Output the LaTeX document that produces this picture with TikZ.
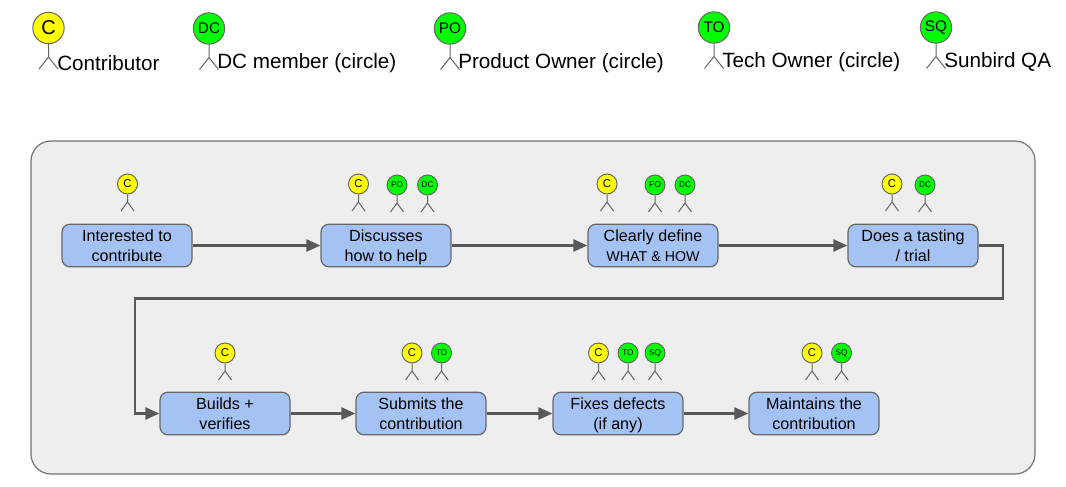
\documentclass[tikz,border=0pt]{standalone}
\usepackage{fontspec}
\setmainfont{Liberation Sans}
\usetikzlibrary{arrows.meta}
\definecolor{panelfill}{HTML}{EEEEEE}
\definecolor{panelline}{HTML}{737373}
\definecolor{boxfill}{HTML}{A4C2F4}
\definecolor{boxline}{HTML}{666666}
\definecolor{linkcol}{HTML}{595959}
\definecolor{headyellow}{HTML}{FFFF00}
\definecolor{headgreen}{HTML}{00FF00}
\newcommand{\lnstrut}{\rule[-3pt]{0pt}{14.4pt}}
\tikzset{
  x=0.75pt,y=-0.75pt,
  panel/.style={draw=panelline,fill=panelfill,line width=0.9pt,rounded corners=15pt},
  stepbox/.style={draw=boxline,fill=boxfill,line width=0.9pt,rounded corners=6pt,minimum width=97.5pt,minimum height=32pt,inner sep=0pt,align=center,font=\fontsize{12.1}{15}\selectfont,text=black},
  link/.style={draw=linkcol,line width=1.9pt,-{Triangle[length=10.5pt,width=9pt]}},
  headbase/.style={circle,draw=boxline,line width=0.75pt,inner sep=0pt,text=black},
  smallhead/.style={headbase,minimum size=15pt},
  bighead/.style={headbase,minimum size=23.5pt},
  limb/.style={draw=boxline,line width=0.75pt},
  legendtext/.style={anchor=base west,inner sep=0pt,font=\fontsize{15.5}{18}\selectfont,text=black},
}
% name, x, y, colour, label, label size
\newcommand{\smallactor}[6]{%
  \node[smallhead,fill=#4,font=\fontsize{#6}{#6}\selectfont] (#1) at (#2,#3) {#5};
  \coordinate (#1hip) at (#2,#3+18);
  \coordinate (#1l) at (#2-6.5,#3+27);
  \coordinate (#1r) at (#2+6.5,#3+27);
  \draw[limb] (#1.south) -- (#1hip) -- (#1l) (#1hip) -- (#1r);
}
\newcommand{\bigactor}[6]{%
  \node[bighead,fill=#4,font=\fontsize{#6}{#6}\selectfont] (#1) at (#2,#3) {#5};
  \coordinate (#1hip) at (#2,#3+29);
  \coordinate (#1l) at (#2-9.5,#3+41);
  \coordinate (#1r) at (#2+9.5,#3+41);
  \draw[limb] (#1.south) -- (#1hip) -- (#1l) (#1hip) -- (#1r);
}
\begin{document}
\begin{tikzpicture}
\useasboundingbox (0,0) rectangle (1066,486);
\bigactor{Lc}{48.5}{28}{headyellow}{C}{15}
\node[legendtext] (tc) at (57,70) {Contributor};
\bigactor{Ld}{209}{28.5}{headgreen}{DC}{11.5}
\node[legendtext] (td) at (217,68) {DC member (circle)};
\bigactor{Lp}{450}{28.5}{headgreen}{PO}{11.5}
\node[legendtext] (tp) at (458,68) {Product Owner (circle)};
\bigactor{Lt}{714}{27.5}{headgreen}{TO}{11.5}
\node[legendtext] (tt) at (722,67) {Tech Owner (circle)};
\bigactor{Ls}{936}{27.5}{headgreen}{SQ}{11.5}
\node[legendtext] (ts) at (944,67) {Sunbird QA};

\path[panel] (31,141) rectangle (1035,474);

\node[stepbox] (b1) at (127,245.5) {\lnstrut Interested to\\\lnstrut contribute};
\node[stepbox] (b2) at (386,245.5) {\lnstrut Discusses\\\lnstrut how to help};
\node[stepbox] (b3) at (653,245.5) {\lnstrut Clearly define\\\lnstrut{\fontsize{10.7}{15}\selectfont WHAT \& HOW}};
\node[stepbox] (b4) at (913,245.5) {\lnstrut Does a tasting\\\lnstrut / trial};
\node[stepbox] (b5) at (225,413.5) {\lnstrut Builds +\\\lnstrut verifies};
\node[stepbox] (b6) at (421,413.5) {\lnstrut Submits the\\\lnstrut contribution};
\node[stepbox] (b7) at (618,413.5) {\lnstrut Fixes defects\\\lnstrut (if any)};
\node[stepbox] (b8) at (814,413.5) {\lnstrut Maintains the\\\lnstrut contribution};

\smallactor{a1}{127.5}{184}{headyellow}{C}{8.5}
\smallactor{a2}{358.5}{184}{headyellow}{C}{8.5}
\smallactor{a3}{397}{185}{headgreen}{PO}{6.2}
\smallactor{a4}{427.5}{185}{headgreen}{DC}{6.2}
\smallactor{a5}{607}{184}{headyellow}{C}{8.5}
\smallactor{a6}{655}{185}{headgreen}{PO}{6.2}
\smallactor{a7}{685}{185}{headgreen}{DC}{6.2}
\smallactor{a8}{892}{184}{headyellow}{C}{8.5}
\smallactor{a9}{925}{185}{headgreen}{DC}{6.2}
\smallactor{c1}{225}{353}{headyellow}{C}{8.5}
\smallactor{c2}{412}{353}{headyellow}{C}{8.5}
\smallactor{c3}{441.5}{353}{headgreen}{TO}{6.2}
\smallactor{c4}{598.5}{353}{headyellow}{C}{8.5}
\smallactor{c5}{628}{353}{headgreen}{TO}{6.2}
\smallactor{c6}{655}{353}{headgreen}{SQ}{6.2}
\smallactor{c7}{812}{353}{headyellow}{C}{8.5}
\smallactor{c8}{841.5}{353}{headgreen}{SQ}{6.2}

\draw[link] (b1) -- (b2);
\draw[link] (b2) -- (b3);
\draw[link] (b3) -- (b4);
\coordinate (wrapr) at (1003,298.5);
\coordinate (wrapl) at (135,298.5);
\draw[link] (b4.east) -| (wrapr) -- (wrapl) |- (b5.west);
\draw[link] (b5) -- (b6);
\draw[link] (b6) -- (b7);
\draw[link] (b7) -- (b8);
\end{tikzpicture}
\end{document}
